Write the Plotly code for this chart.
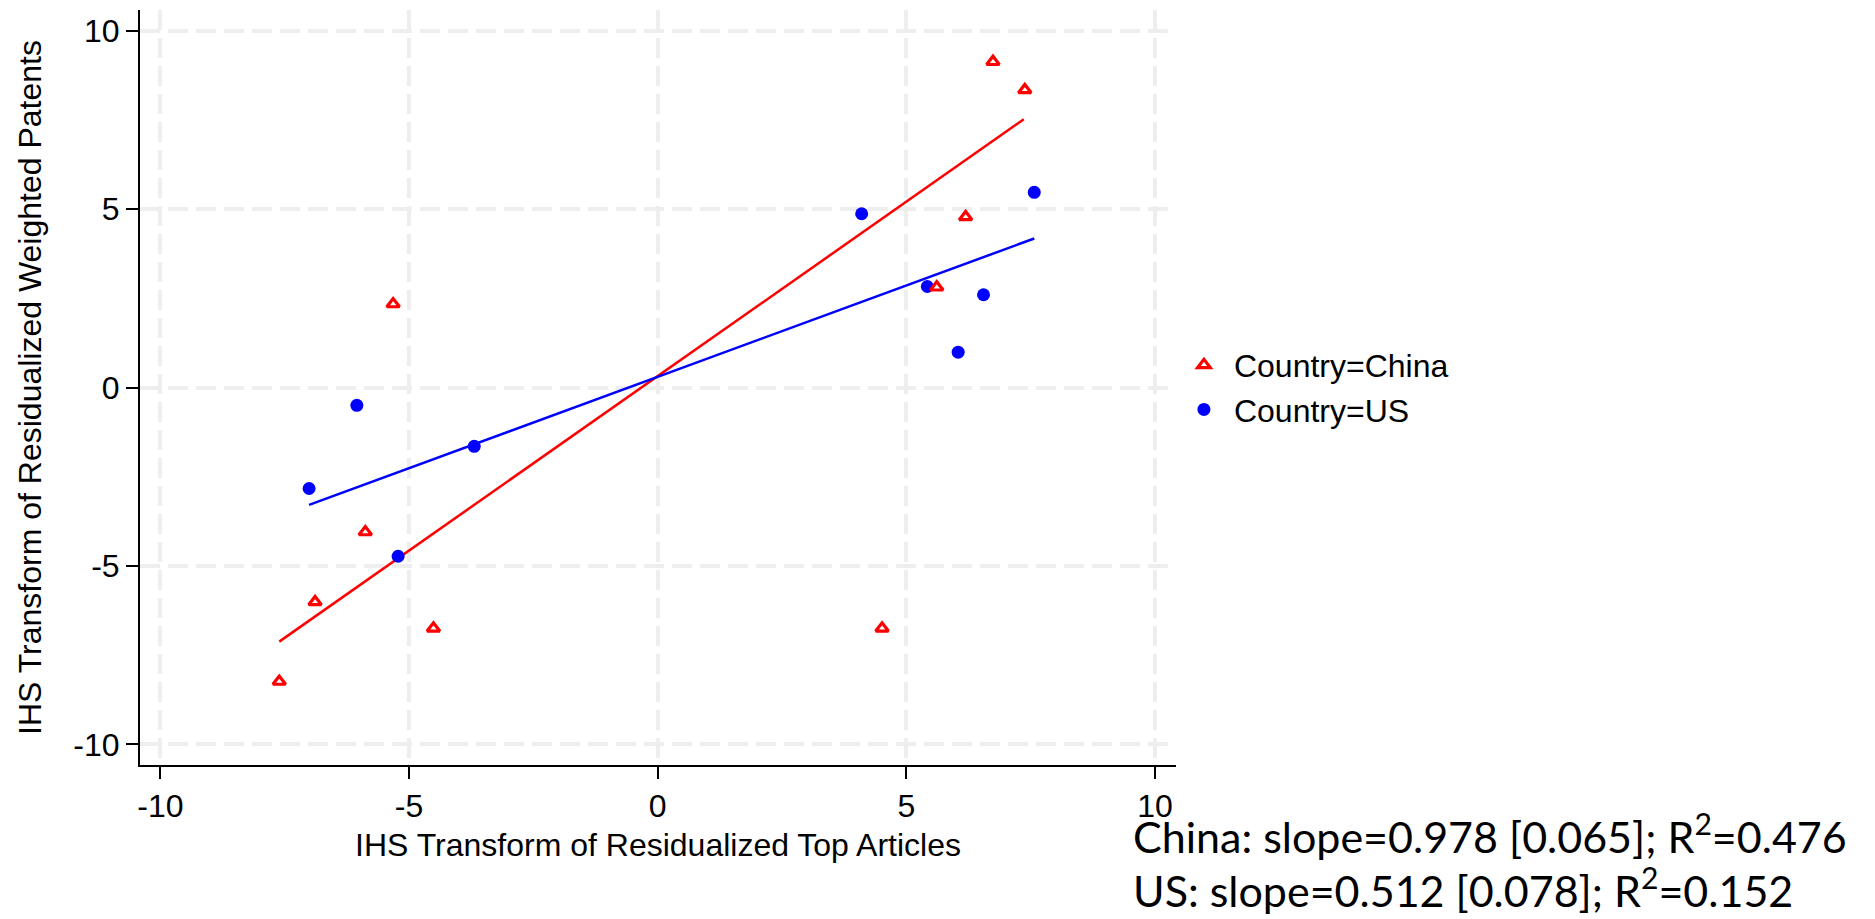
import plotly.graph_objects as go

# ---- data ----
china_x = [-5.32, -5.88, -6.89, -4.51, -7.61, 6.74, 7.38, 6.19, 5.61, 4.51]
china_y = [2.34, -4.05, -6.01, -6.75, -8.24, 9.13, 8.34, 4.78, 2.81, -6.75]
us_x = [-6.05, -3.69, -7.01, -5.22, 7.57, 4.10, 5.42, 6.55, 6.04]
us_y = [-0.50, -1.65, -2.83, -4.73, 5.47, 4.87, 2.83, 2.60, 0.99]

# fitted lines (slope from annotation, intercept)
china_slope, china_intercept = 0.978, 0.32
us_slope, us_intercept = 0.512, 0.30
china_fit_x = [-7.61, 7.36]
us_fit_x = [-7.01, 7.57]

tick_vals = [-10, -5, 0, 5, 10]
tick_text = ["-10", "-5", "0", "5", "10"]

annot_lines = [
    "China: slope=0.978 [0.065]; R<sup>2</sup>=0.476",
    "US: slope=0.512 [0.078]; R<sup>2</sup>=0.152",
]

RED = "#ff0000"
BLUE = "#0000ff"
FONT = "Liberation Sans, Arial, sans-serif"

fig = go.Figure()

fig.add_trace(go.Scatter(
    x=china_fit_x, y=[china_intercept + china_slope * v for v in china_fit_x],
    mode="lines", line=dict(color=RED, width=2.5), showlegend=False, hoverinfo="skip"))
fig.add_trace(go.Scatter(
    x=us_fit_x, y=[us_intercept + us_slope * v for v in us_fit_x],
    mode="lines", line=dict(color=BLUE, width=2.5), showlegend=False, hoverinfo="skip"))

fig.add_trace(go.Scatter(
    x=us_x, y=us_y, mode="markers", name="Country=US", legendrank=2,
    legendgroup="us",
    marker=dict(symbol="circle", color=BLUE, size=13, line=dict(width=0))))
fig.add_trace(go.Scatter(
    x=china_x, y=china_y, mode="markers", name="Country=China", legendrank=1,
    legendgroup="china",
    marker=dict(symbol="triangle-up-open", color=RED, size=11,
                line=dict(color=RED, width=3.2))))

axis_common = dict(
    tickvals=tick_vals, ticktext=tick_text,
    ticks="outside", ticklen=12, tickwidth=2, tickcolor="black",
    showline=True, linecolor="black", linewidth=2,
    showgrid=True, gridcolor="#eeeeee", gridwidth=4, griddash="20px,8px",
    zeroline=False, mirror=False,
    tickfont=dict(family=FONT, size=32, color="black"),
)

fig.update_layout(
    width=1875, height=919, autosize=False,
    paper_bgcolor="white", plot_bgcolor="white",
    margin=dict(l=140, r=699, t=10, b=154),
    font=dict(family=FONT, color="black"),
    xaxis=dict(range=[-10.41, 10.42],
               title=dict(text="IHS Transform of Residualized Top Articles",
                          font=dict(family=FONT, size=32, color="black"), standoff=10),
               **axis_common),
    yaxis=dict(range=[-10.58, 10.58],
               title=dict(text="IHS Transform of Residualized Weighted Patents",
                          font=dict(family=FONT, size=32, color="black"), standoff=22),
               **axis_common),
    legend=dict(x=0.998, y=0.5, xanchor="left", yanchor="middle",
                font=dict(family=FONT, size=32, color="black"),
                bgcolor="rgba(0,0,0,0)", itemwidth=50, tracegroupgap=3,
                traceorder="normal"),
)

ys = [-0.091, -0.162]
for txt, yy in zip(annot_lines, ys):
    fig.add_annotation(text=txt, xref="paper", yref="paper", x=0.9566, y=yy,
                       xanchor="left", yanchor="middle", showarrow=False,
                       font=dict(family="Lato, sans-serif", size=43, color="black"))

fig.write_html("out.html")
